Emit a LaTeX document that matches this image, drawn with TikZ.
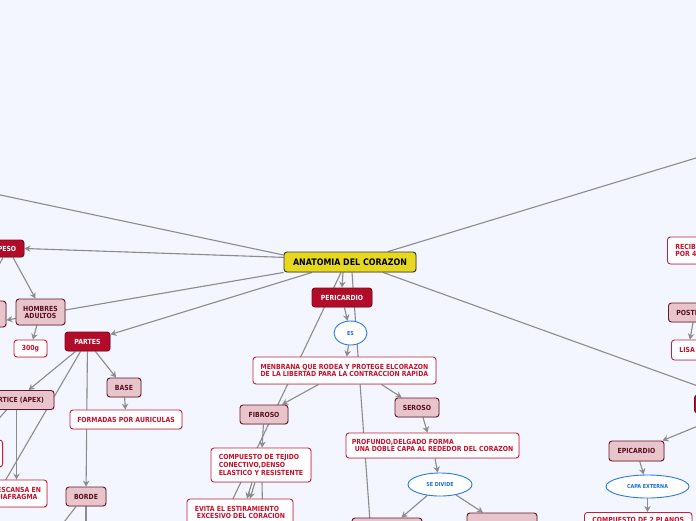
\documentclass[tikz,border=0pt]{standalone}
\usepackage{fontspec}
\setmainfont{DejaVu Sans}[FakeStretch=0.88]
\usetikzlibrary{shapes.geometric,arrows.meta,shadows}
\definecolor{bgc}{RGB}{243,246,254}
\definecolor{redf}{RGB}{178,12,42}
\definecolor{redd}{RGB}{130,8,30}
\definecolor{pinkf}{RGB}{232,197,202}
\definecolor{pinkd}{RGB}{100,24,44}
\definecolor{pinkt}{RGB}{88,14,34}
\definecolor{whd}{RGB}{200,30,60}
\definecolor{wht}{RGB}{200,16,46}
\definecolor{blued}{RGB}{40,122,230}
\definecolor{bluet}{RGB}{30,110,210}
\definecolor{yelf}{RGB}{230,216,30}
\definecolor{linec}{RGB}{140,140,140}
\pgfdeclarelayer{edges}
\pgfsetlayers{edges,main}
\tikzset{
  sz/.style 2 args={minimum width=#1pt,minimum height=#2pt},
  basebox/.style={rounded corners=3pt, inner sep=0pt, line width=0.9pt, align=center,
    drop shadow={shadow xshift=0.8pt, shadow yshift=-0.8pt, opacity=0.22}},
  redbox/.style={basebox, fill=redf, draw=redd, text=white},
  pinkbox/.style={basebox, fill=pinkf, draw=pinkd, text=pinkt},
  whitebox/.style={basebox, fill=white, draw=whd, text=wht},
  mainbox/.style={basebox, fill=yelf, draw=black!80, text=black, font=\bfseries\fontsize{9}{10}\selectfont},
  ovalbox/.style={ellipse, fill=white, draw=blued, text=bluet, inner sep=0pt, line width=0.9pt,
    font=\bfseries\fontsize{5.5}{6}\selectfont},
  conn/.style={draw=linec, line width=1.1pt},
  arr/.style={conn, -{Stealth[length=6pt,width=6.5pt]}, fill=linec}
}
\begin{document}
\begin{tikzpicture}[x=1pt,y=-1pt, font=\bfseries\fontsize{7}{7}\selectfont]
\useasboundingbox (0,0) rectangle (696,520);
% nodes
\node[mainbox, sz={132}{20}] (main) at (350,262) {ANATOMIA DEL CORAZON};
\node[redbox, sz={34}{17}] (peso) at (7,248.5) {PESO};
\node[pinkbox, sz={52}{26}] (left1) at (-20,314) {};
\node[pinkbox, sz={49}{26}] (hombres) at (40.5,312) {HOMBRES\\ADULTOS};
\node[whitebox, sz={33}{17}] (g300) at (30.5,348.5) {300g};
\node[redbox, sz={45}{19}] (partes) at (87.5,341.5) {PARTES};
\node[pinkbox, sz={75}{19}] (vertice) at (16.5,400) {VERTICE (APEX)};
\node[whitebox, sz={42}{27}, anchor=east] (left2) at (3,453.5) {};
\node[whitebox, sz={61}{27}, font=\bfseries\fontsize{7}{7.7}\selectfont] (descansa) at (16.5,493.5) {DESCANSA EN\\DIAFRAGMA};
\node[pinkbox, sz={34}{19}] (base) at (124,387.5) {BASE};
\node[whitebox, sz={112}{19}] (formadas) at (126,419.5) {FORMADAS POR AURICULAS};
\node[pinkbox, sz={40}{19}] (borde) at (86,496.5) {BORDE};
\node[redbox, sz={60}{19}] (pericardio) at (342,297.5) {PERICARDIO};
\node[ovalbox, sz={33}{24}] (es) at (350.5,333) {ES};
\node[whitebox, sz={183}{27}, align=left] (menbrana) at (344.5,370.5) {MENBRANA QUE RODEA Y PROTEGE ELCORAZON\\DE LA LIBERTAD PARA LA CONTRACCION RAPIDA};
\node[pinkbox, sz={48}{19}] (fibroso) at (264,414.5) {FIBROSO};
\node[pinkbox, sz={44}{19}] (seroso) at (417,407.5) {SEROSO};
\node[whitebox, sz={100}{34}, align=left, font=\bfseries\fontsize{7}{8.3}\selectfont] (compuesto) at (261,465) {COMPUESTO DE TEJIDO\\CONECTIVO,DENSO\\ELASTICO Y RESISTENTE};
\node[whitebox, sz={106}{27}, align=left, font=\bfseries\fontsize{7}{7.7}\selectfont] (evita) at (240,512.5) {EVITA EL ESTIRAMIENTO\\\hspace*{2pt}EXCESIVO DEL CORACION};
\node[whitebox, sz={173}{25}, align=left] (profundo) at (432.5,445.5) {PROFUNDO,DELGADO FORMA\\\hspace*{3pt}UNA DOBLE CAPA AL REDEDOR DEL CORAZON};
\node[ovalbox, sz={64}{23}] (sedivide) at (440,484.5) {SE DIVIDE};
\node[pinkbox, sz={70}{24}] (bot1) at (387,530) {};
\node[pinkbox, sz={70}{24}] (bot2) at (502,525) {};
\node[whitebox, anchor=west, inner xsep=8pt, minimum height=27pt, align=left] (recibe) at (667,250.5) {RECIBE\\POR 4};
\node[pinkbox, anchor=west, inner xsep=8pt, minimum height=19pt] (posterior) at (668,312.5) {POSTERIOR};
\node[whitebox, anchor=west, inner xsep=8pt, minimum height=20pt] (lisa) at (671,350) {LISA};
\node[redbox, sz={30}{18}, anchor=west] (rednode) at (694,404) {};
\node[pinkbox, sz={55}{20}] (epicardio) at (636.5,451) {EPICARDIO};
\node[ovalbox, sz={83}{23}] (capaext) at (647.5,486.5) {CAPA EXTERNA};
\node[whitebox, anchor=north west, inner xsep=8pt, inner ysep=4.5pt, text depth=16pt] (comp2) at (584,512) {COMPUESTO DE 2 PLANOS};
% free ends
\coordinate (tl) at (-20,190.7);
\coordinate (tr) at (720,150.7);
\coordinate (rr) at (720,394);
\coordinate (rr2) at (720,417);
\coordinate (pl) at (-10,282);
\coordinate (pbl) at (-6,500);
\coordinate (vl) at (-6,424);
\coordinate (bl1) at (58,530);
\coordinate (bl2) at (86,530);
\coordinate (longa) at (230,505);
\coordinate (longb) at (371,535);
\coordinate (evl) at (263,530);
\begin{pgfonlayer}{edges}
\fill[bgc] (-30,-30) rectangle (730,550);
\draw[conn] (main.174) -- (tl);
\draw[arr] (main.176) -- (peso.east);
\draw[arr] (main.south west) -- (left1.-13);
\draw[arr] ([xshift=-38pt]main.south) -- (partes);
\draw[arr] ([xshift=-7pt]main.south) -- (pericardio.north);
\draw[conn] ([xshift=-9pt]main.south) -- (longa);
\draw[conn] ([xshift=2pt]main.south) -- (longb);
\draw[conn] ([xshift=38pt]main.north) -- (tr);
\draw[conn] ([xshift=33pt]main.south) -- (rr);
\draw[arr] ([xshift=6pt]peso.south) -- ([xshift=-5pt]hombres.north);
\draw[conn] ([xshift=-4pt]peso.south) -- (pl);
\draw[arr] (hombres) -- (g300);
\draw[arr] (partes) -- (vertice);
\draw[conn] ([xshift=-7pt]partes.south) -- (pbl);
\draw[arr] (partes) -- (base);
\draw[arr] (partes) -- (borde);
\draw[arr] (base) -- (formadas);
\draw[conn] ([xshift=-10pt]borde.south) -- (bl1);
\draw[conn] (borde.south) -- (bl2);
\draw[conn] ([xshift=-10pt]vertice.south) -- (vl);
\draw[arr] (vertice) -- (descansa);
\draw[arr] (pericardio) -- (es);
\draw[arr] (es) -- (menbrana);
\draw[arr] ([xshift=-26pt]menbrana.south) -- (fibroso);
\draw[arr] ([xshift=37pt]menbrana.south) -- (seroso);
\draw[arr] (fibroso) -- (compuesto);
\draw[arr] ([xshift=-9pt]compuesto.south) -- ([xshift=7pt]evita.north);
\draw[arr] ([xshift=-6pt]compuesto.south) -- ([xshift=10pt]evita.north);
\draw[conn] ([xshift=1pt]compuesto.south) -- (evl);
\draw[arr] ([xshift=6pt]seroso.south) -- ([xshift=-5pt]profundo.north);
\draw[arr] (profundo) -- (sedivide);
\draw[arr] (sedivide) -- (bot1);
\draw[arr] (sedivide) -- (bot2);
\draw[arr] ([xshift=25pt]posterior.south west) -- ([xshift=19pt]lisa.north west);
\draw[arr] (rr2) -- ([xshift=26pt]epicardio.north);
\draw[arr] (epicardio) -- (capaext);
\draw[arr] (capaext.south) -- (capaext.south |- comp2.north);
\end{pgfonlayer}
\end{tikzpicture}
\end{document}
